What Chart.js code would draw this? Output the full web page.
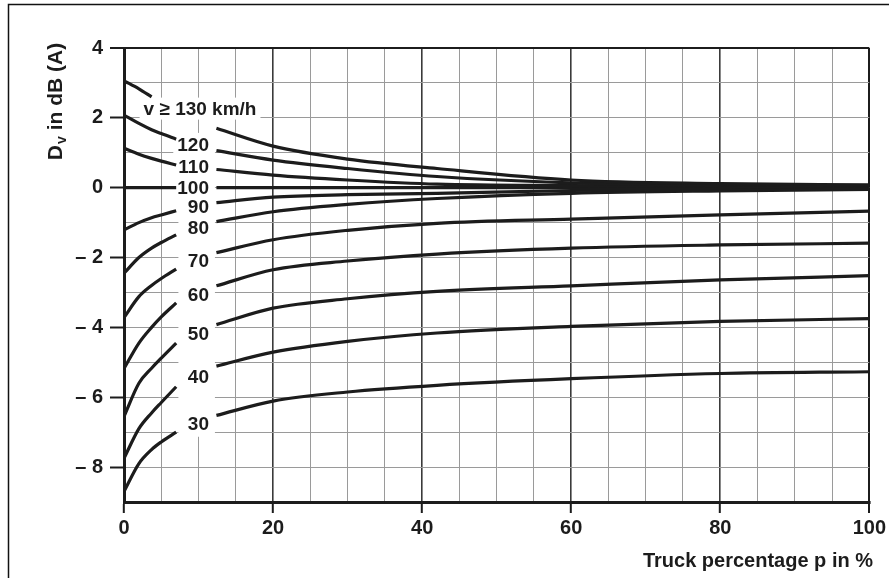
<!DOCTYPE html>
<html>
<head>
<meta charset="utf-8">
<script src="https://cdn.jsdelivr.net/npm/chart.js@4.4.1/dist/chart.umd.min.js"></script>
<style>
  html, body { margin: 0; padding: 0; background: #fff; }
  #wrap { width: 889px; height: 578px; position: relative; }
</style>
</head>
<body>
<div id="wrap"><canvas id="chart"></canvas></div>
<script>
// truck percentage p in % at which the curves were read
const truckPct = [0, 2, 3.7, 5, 7, 10, 12.4, 20, 30, 42, 60, 80, 100];

// D_v in dB(A) per speed; null = break in the line where the label sits
const dv130 = [3.06, 2.83, 2.6, null, null, null, 1.70, 1.19, 0.82, 0.55, 0.22, 0.12, 0.08];
const dv120 = [2.08, 1.84, 1.66, 1.55, 1.39, null, 1.06, 0.79, 0.55, 0.32, 0.14, 0.08, 0.05];
const dv110 = [1.13, 0.96, 0.84, 0.76, 0.65, null, 0.52, 0.36, 0.22, 0.10, 0.06, 0.04, 0.03];
const dv100 = [0, 0, 0, 0, 0, null, 0, 0, 0, 0, 0, 0, 0];
const dv90 = [-1.21, -1.0, -0.86, -0.78, -0.66, null, -0.43, -0.27, -0.2, -0.16, -0.08, -0.05, -0.02];
const dv80 = [-2.45, -2.0, -1.73, -1.57, -1.35, null, -0.97, -0.69, -0.48, -0.31, -0.16, -0.09, -0.05];
const dv70 = [-3.72, -3.12, -2.8, -2.6, -2.33, null, -1.86, -1.49, -1.22, -1.02, -0.9, -0.78, -0.67];
const dv60 = [-5.18, -4.45, -4.0, -3.7, -3.30, null, -2.81, -2.35, -2.1, -1.9, -1.73, -1.64, -1.59];
const dv50 = [-6.55, -5.6, -5.17, -4.88, -4.45, null, -3.92, -3.45, -3.18, -2.97, -2.81, -2.64, -2.52];
const dv40 = [-7.75, -6.9, -6.45, -6.15, -5.70, null, -5.11, -4.71, -4.4, -4.16, -3.97, -3.83, -3.75];
const dv30 = [-8.7, -7.9, -7.5, -7.28, -7.0, null, -6.52, -6.11, -5.85, -5.66, -5.47, -5.32, -5.27];

const speedLabels = ['v \u2265 130 km/h', '120', '110', '100', '90', '80', '70', '60', '50', '40', '30'];
const series = [dv130, dv120, dv110, dv100, dv90, dv80, dv70, dv60, dv50, dv40, dv30];

const FONT = 'Liberation Sans, Arial, Helvetica, sans-serif';
const INK = '#1c1c1c';

function labelBoxes(chart) {
  const xs = chart.scales.x, ys = chart.scales.y, ctx = chart.ctx;
  ctx.font = 'bold 19px ' + FONT;
  return chart.data.datasets.map((ds, i) => {
    const pts = ds.data;
    const gap = pts.findIndex((pt, k) => k > 0 && pt.y === null && pts[k + 1] && pts[k + 1].y !== null);
    let a = gap - 1;
    while (pts[a].y === null) a--;
    const b = gap + 1;
    const yv = (pts[a].y + pts[b].y) / 2;
    const w = ctx.measureText(ds.label).width;
    let right, yc = ys.getPixelForValue(yv);
    if (i === 0) {
      right = xs.getPixelForValue(10.2) + w / 2;
      yc -= 4;
    } else {
      right = xs.getPixelForValue(11.4);
    }
    return { text: ds.label, left: right - w, right: right, y: yc };
  });
}

const decor = {
  id: 'decor',
  beforeDraw(chart) {
    const ctx = chart.ctx;
    ctx.save();
    ctx.fillStyle = '#fff';
    ctx.fillRect(0, 0, chart.width, chart.height);
    ctx.strokeStyle = '#111';
    ctx.lineWidth = 1.5;
    ctx.beginPath();
    ctx.moveTo(8.5, chart.height);
    ctx.lineTo(8.5, 4.5);
    ctx.lineTo(chart.width, 4.5);
    ctx.stroke();
    ctx.restore();
  },
  beforeDatasetsDraw(chart) {
    // the labels sit in a white column that hides the grid
    const ctx = chart.ctx, xs = chart.scales.x;
    const boxes = labelBoxes(chart);
    ctx.save();
    ctx.fillStyle = '#fff';
    const x0 = xs.getPixelForValue(7.3), x1 = xs.getPixelForValue(12.2);
    ctx.fillRect(x0, boxes[1].y - 12, x1 - x0, boxes[boxes.length - 1].y + 13 - (boxes[1].y - 12));
    boxes.forEach(b => ctx.fillRect(b.left - 4, b.y - 11, b.right - b.left + 8, 22));
    ctx.restore();
  },
  afterDatasetsDraw(chart) {
    const ctx = chart.ctx;
    ctx.save();
    ctx.fillStyle = INK;
    ctx.textBaseline = 'middle';
    ctx.textAlign = 'left';
    ctx.font = 'bold 19px ' + FONT;
    labelBoxes(chart).forEach(b => ctx.fillText(b.text, b.left, b.y + 1));

    // x axis title
    ctx.font = 'bold 20px ' + FONT;
    ctx.textAlign = 'right';
    ctx.textBaseline = 'alphabetic';
    ctx.fillText('Truck percentage p in %', 873, 567);

    // y axis title with subscript
    ctx.translate(62, 102);
    ctx.rotate(-Math.PI / 2);
    const big = 'bold 21px ' + FONT, small = 'bold 14px ' + FONT;
    ctx.font = big;
    const wD = ctx.measureText('D').width;
    const wRest = ctx.measureText(' in dB (A)').width;
    ctx.font = small;
    const wv = ctx.measureText('v').width;
    let x = -(wD + wv + wRest) / 2;
    ctx.textAlign = 'left';
    ctx.font = big;
    ctx.fillText('D', x, 0);
    x += wD;
    ctx.font = small;
    ctx.fillText('v', x + 1, 4);
    x += wv + 1;
    ctx.font = big;
    ctx.fillText(' in dB (A)', x, 0);
    ctx.restore();
  }
};

const datasets = series.map((vals, i) => ({
  label: speedLabels[i],
  data: truckPct.map((p, k) => ({ x: p, y: vals[k] })),
  borderColor: INK,
  borderWidth: 3.2,
  pointRadius: 0,
  fill: false,
  spanGaps: false,
  cubicInterpolationMode: 'monotone'
}));

new Chart(document.getElementById('chart'), {
  type: 'line',
  data: { datasets },
  options: {
    responsive: true,
    maintainAspectRatio: false,
    animation: false,
    layout: { padding: { top: 48, right: 17, left: 0, bottom: 0 } },
    plugins: { legend: { display: false }, tooltip: { enabled: false } },
    scales: {
      x: {
        type: 'linear',
        min: 0,
        max: 100,
        afterFit: (s) => { s.height = 76; },
        border: { display: true, color: INK, width: 3 },
        grid: {
          color: (c) => c.tick.value === 100 ? INK : (c.tick.value % 20 === 0 ? '#3a3a3a' : '#9a9a9a'),
          lineWidth: (c) => c.tick.value === 100 ? 2 : (c.tick.value % 20 === 0 ? 1.6 : 1),
          tickLength: 11,
          tickColor: (c) => c.tick.value % 20 === 0 ? INK : 'rgba(0,0,0,0)',
          tickWidth: 2
        },
        ticks: {
          stepSize: 5,
          autoSkip: false,
          maxRotation: 0,
          padding: 3,
          color: INK,
          font: { family: FONT, size: 20, weight: 'bold' },
          callback: (v) => v % 20 === 0 ? String(v) : ''
        }
      },
      y: {
        min: -9,
        max: 4,
        afterFit: (s) => { s.width = 124; },
        border: { display: true, color: INK, width: 3 },
        grid: {
          color: (c) => c.tick.value === 4 ? INK : '#9a9a9a',
          lineWidth: (c) => c.tick.value === 4 ? 2 : 1,
          tickLength: 14,
          tickColor: (c) => c.tick.value % 2 === 0 ? INK : 'rgba(0,0,0,0)',
          tickWidth: 2
        },
        ticks: {
          stepSize: 1,
          padding: 7,
          color: INK,
          font: { family: FONT, size: 20, weight: 'bold' },
          callback: (v) => v % 2 !== 0 ? '' : (v < 0 ? '\u2013 ' + (-v) : String(v))
        }
      }
    }
  },
  plugins: [decor]
});
</script>
</body>
</html>
